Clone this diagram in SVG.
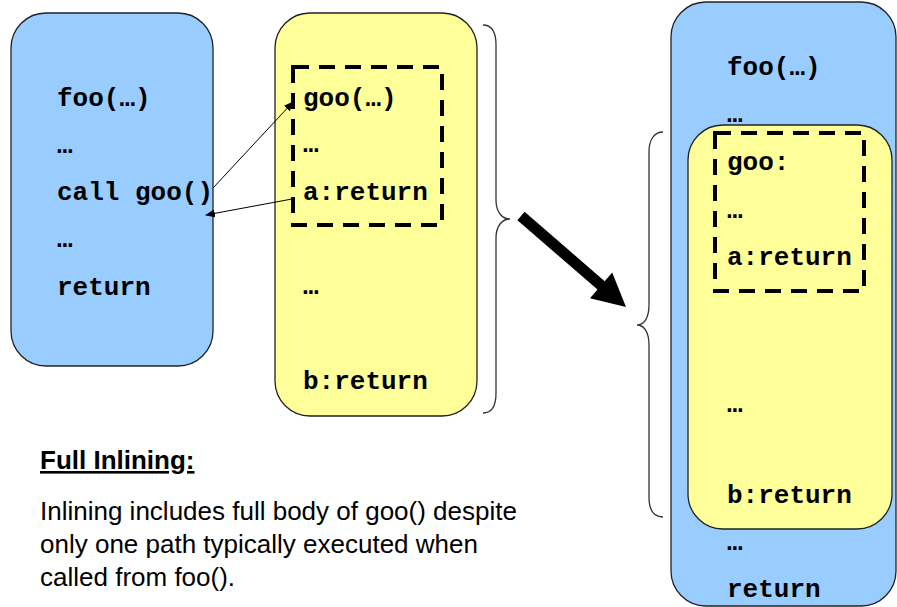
<svg xmlns="http://www.w3.org/2000/svg" width="897" height="607" viewBox="0 0 897 607">
  <style>
    .blue { fill: #99CCFF; stroke: #222; stroke-width: 1.3; }
    .yellow { fill: #FFFF99; stroke: #222; stroke-width: 1.3; }
    .dash { fill: none; stroke: #000; stroke-width: 4; stroke-dasharray: 16 10; }
    .code { font-family: "Liberation Mono", "Courier New", monospace; font-weight: bold; font-size: 26px; fill: #000; }
    .note { font-family: "Liberation Sans", Arial, sans-serif; font-size: 26px; fill: #000; }
    .brace { fill: none; stroke: #333; stroke-width: 1.3; }
    .link { fill: none; stroke: #000; stroke-width: 1; }
  </style>
  <defs>
    <marker id="head" markerUnits="userSpaceOnUse" markerWidth="10" markerHeight="8" refX="9" refY="4" orient="auto">
      <path d="M0,0 L10,4 L0,8 Z" fill="#000"/>
    </marker>
  </defs>

  <!-- caller foo -->
  <g id="foo">
    <rect class="blue" x="11" y="13" width="202" height="353" rx="35"/>
    <text class="code" x="57" y="106">foo(…)</text>
    <text class="code" x="57" y="153">…</text>
    <text class="code" x="57" y="200">call goo()</text>
    <text class="code" x="57" y="247">…</text>
    <text class="code" x="57" y="295">return</text>
  </g>

  <!-- callee goo -->
  <g id="goo">
    <rect class="yellow" x="275" y="13" width="202" height="403" rx="35"/>
    <rect class="dash" x="293" y="67" width="149" height="158"/>
    <text class="code" x="303" y="106">goo(…)</text>
    <text class="code" x="303" y="152">…</text>
    <text class="code" x="303" y="200">a:return</text>
    <text class="code" x="303" y="294">…</text>
    <text class="code" x="303" y="389">b:return</text>
  </g>

  <!-- foo after inlining goo -->
  <g id="foo-inlined">
    <rect class="blue" x="671" y="2" width="225" height="604" rx="35"/>
    <text class="code" x="727" y="75">foo(…)</text>
    <text class="code" x="727" y="122">…</text>
    <rect class="yellow" x="688" y="125" width="204" height="404" rx="35"/>
    <rect class="dash" x="715" y="133" width="149" height="158"/>
    <text class="code" x="727" y="170">goo:</text>
    <text class="code" x="727" y="218">…</text>
    <text class="code" x="727" y="265">a:return</text>
    <text class="code" x="727" y="412">…</text>
    <text class="code" x="727" y="503">b:return</text>
    <text class="code" x="727" y="550">…</text>
    <text class="code" x="727" y="597">return</text>
  </g>

  <!-- caption -->
  <g id="caption">
    <text class="note" x="40" y="469" font-weight="bold" text-decoration="underline">Full Inlining:</text>
    <text class="note" x="40" y="520">Inlining includes full body of goo() despite</text>
    <text class="note" x="40" y="553">only one path typically executed when</text>
    <text class="note" x="40" y="586">called from foo().</text>
  </g>

  <!-- connectors -->
  <g id="connectors">
    <path class="link" d="M213,188 L293,102" marker-end="url(#head)"/>
    <path class="link" d="M292,199 L206,215" marker-end="url(#head)"/>
    <path class="brace" d="M483,25 C492,25 496,32 496,45 L496,200 C496,212 502,219 510,219 C502,219 496,226 496,238 L496,393 C496,406 492,413 483,413"/>
    <path class="brace" d="M663,132 C654,132 649,140 649,152 L649,305 C649,318 644,325 637,325 C644,325 649,332 649,345 L649,497 C649,510 654,517 663,517"/>
    <polygon fill="#000" points="524.6,211.8 604.7,281.2 612.2,272.5 626,307 590,298.3 597.5,289.6 517.4,220.2"/>
  </g>
</svg>
